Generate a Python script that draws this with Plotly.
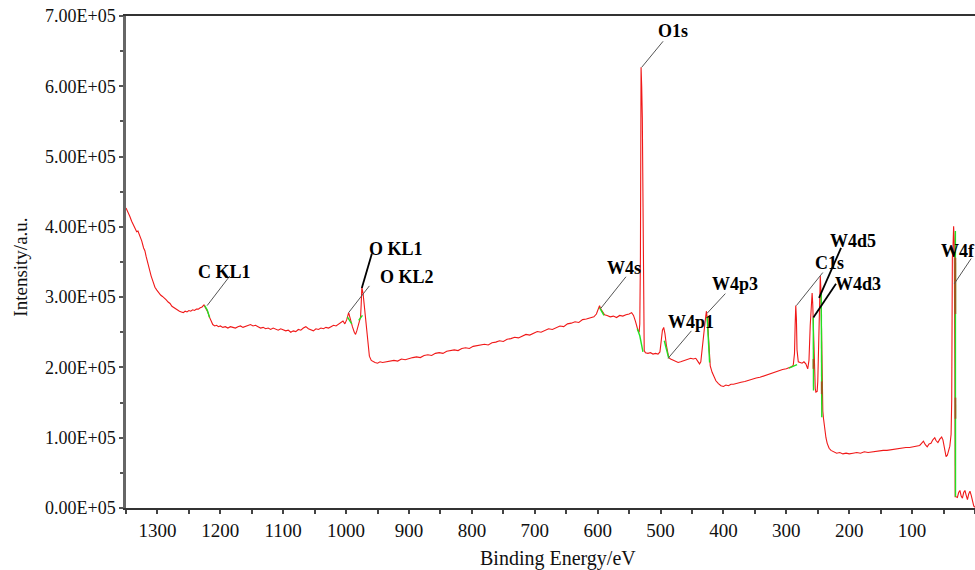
import numpy as np
import plotly.graph_objects as go

# ---------------- data (intensity in units of 1e5 counts) ----------------
be = [1350, 1347, 1344, 1341, 1338, 1335, 1333, 1331, 1329, 1327, 1325, 1322, 1320, 1318, 1316, 1314,
      1312, 1310, 1307, 1304, 1301, 1298, 1295, 1292, 1289, 1286, 1283, 1280, 1277, 1274, 1271, 1268,
      1265, 1262, 1259, 1256, 1253, 1250, 1247, 1244, 1241, 1238, 1235, 1232, 1229, 1226, 1224, 1222,
      1220, 1218, 1216, 1214, 1212, 1209, 1206, 1203, 1200,
      1196, 1192, 1188, 1184, 1180, 1176, 1172, 1168, 1164, 1160, 1156, 1152, 1148, 1144, 1140, 1136,
      1132, 1128, 1124, 1120, 1116, 1112, 1108, 1104, 1100, 1096, 1092, 1088, 1084, 1080, 1076, 1072,
      1068, 1064, 1060, 1056, 1052, 1048, 1044, 1040, 1036, 1032, 1028, 1024, 1020, 1016, 1012, 1008,
      1005, 1002, 999, 996, 993, 990, 987, 985, 983, 981, 979, 977, 976, 975, 973, 971, 969, 967, 965,
      963, 960, 957, 954, 950, 946, 942,
      936, 930, 924, 918, 912, 906, 900, 894, 888, 882, 876, 870, 864, 858, 852, 846, 840, 834, 828,
      822, 816, 810, 804, 798, 792, 786, 780, 774, 768, 762, 756, 750, 744, 738, 732, 726, 720, 714,
      708, 702, 696, 690, 684, 678, 672, 666, 660, 654, 648, 642, 636, 630, 624, 618, 612, 606, 602,
      599, 597, 595, 592, 589, 585, 580, 575, 570, 565, 560, 555, 550, 546, 543, 540, 538, 536, 534,
      533, 532, 531, 530, 529, 528, 527, 526, 524, 520, 516, 512, 508, 504, 501, 499, 497, 495, 493,
      491, 489, 487, 484, 480, 476, 472, 468, 464, 460, 456, 452, 448, 444, 441, 438, 436, 434, 432,
      430, 428, 427, 425, 423, 421, 418, 415, 412, 408, 404, 400, 396, 392, 388, 384, 378, 372, 366,
      360, 354, 348, 342, 336, 330, 324, 318, 312, 306, 300, 296, 292, 289, 287, 286, 285, 284, 283,
      281, 278, 275, 272, 269, 266, 264, 262, 260, 259, 258, 256, 254, 253, 251, 250, 248, 247, 246,
      245, 244, 243, 242, 241, 239, 237, 235, 232, 229, 225, 220, 215, 210, 205, 200, 194, 188, 182,
      176, 170, 164, 158, 152, 146, 140, 134, 128, 122, 116, 110, 104, 98, 92, 88, 85, 82, 79, 76, 73,
      70, 67, 64, 62, 59, 56, 53, 51, 48, 46, 44, 42, 40, 38, 37, 36, 35, 34, 33, 32, 31.5, 30, 28, 26,
      24, 22, 20, 18, 16, 14, 12, 10, 8, 6, 4, 2, 0]
intensity = [4.27, 4.22, 4.15, 4.08, 4.02, 3.96, 3.93, 3.94, 3.90, 3.85, 3.80, 3.70, 3.66, 3.58, 3.50, 3.44,
             3.36, 3.30, 3.22, 3.14, 3.10, 3.06, 3.03, 3.01, 2.99, 2.96, 2.93, 2.91, 2.87, 2.85, 2.84, 2.82,
             2.80, 2.79, 2.78, 2.80, 2.79, 2.81, 2.80, 2.82, 2.81, 2.83, 2.83, 2.85, 2.86, 2.89, 2.86, 2.84,
             2.79, 2.73, 2.68, 2.64, 2.61, 2.59, 2.60, 2.58, 2.59,
             2.57, 2.58, 2.56, 2.58, 2.57, 2.56, 2.58, 2.59, 2.57, 2.58, 2.60, 2.61, 2.59, 2.60, 2.58, 2.56,
             2.57, 2.55, 2.56, 2.54, 2.56, 2.55, 2.53, 2.55, 2.54, 2.52, 2.53, 2.50, 2.52, 2.51, 2.54, 2.53,
             2.56, 2.58, 2.55, 2.54, 2.52, 2.55, 2.54, 2.56, 2.55, 2.57, 2.56, 2.58, 2.60, 2.59, 2.62, 2.64,
             2.66, 2.62, 2.68, 2.78, 2.66, 2.58, 2.50, 2.47, 2.52, 2.60, 2.68, 2.72, 2.90, 3.14, 3.05, 2.85,
             2.72, 2.50, 2.30,
             2.16, 2.10, 2.08, 2.07, 2.06, 2.08, 2.07,
             2.08, 2.09, 2.10, 2.09, 2.12, 2.11, 2.13, 2.14, 2.15, 2.14, 2.17, 2.18, 2.17, 2.20, 2.21, 2.20,
             2.23, 2.24, 2.25, 2.24, 2.27, 2.28, 2.27, 2.30, 2.31, 2.32, 2.33, 2.32, 2.35, 2.36, 2.38, 2.37,
             2.40, 2.41, 2.43, 2.42, 2.45, 2.47, 2.46, 2.49, 2.51, 2.50, 2.53, 2.55, 2.54, 2.57, 2.59, 2.58,
             2.62, 2.63, 2.65, 2.64, 2.68, 2.69, 2.71, 2.72, 2.76,
             2.82, 2.88, 2.83, 2.78, 2.75, 2.74, 2.72, 2.73, 2.71, 2.74, 2.73, 2.75, 2.76, 2.78, 2.74, 2.66,
             2.58, 2.53, 2.50,
             2.62, 3.60, 6.27, 6.00, 5.55, 3.90, 2.60, 2.24, 2.21, 2.20, 2.21, 2.19, 2.20, 2.19, 2.22, 2.35,
             2.53, 2.57, 2.48,
             2.33, 2.20, 2.14, 2.12, 2.10, 2.09, 2.07, 2.08, 2.09, 2.10, 2.11, 2.13, 2.12, 2.13, 2.09, 2.05,
             2.08, 2.22, 2.42,
             2.58, 2.74, 2.80, 2.62, 2.20, 2.02, 1.93, 1.86, 1.81, 1.77, 1.74, 1.73, 1.75, 1.74, 1.76, 1.76,
             1.78, 1.79, 1.80,
             1.82, 1.83, 1.85, 1.86, 1.88, 1.89, 1.91, 1.93, 1.95, 1.97, 1.98, 1.99, 2.01, 2.03, 2.20, 2.60,
             2.88, 2.70, 2.25,
             2.08, 2.07, 2.06, 2.08, 2.05, 1.98, 2.10, 2.60, 3.05, 3.06, 2.90, 2.20, 1.70, 1.65, 1.66, 1.80,
             2.60, 3.28, 3.30,
             3.10, 2.40, 1.60, 1.38, 1.28, 1.12, 1.00, 0.92, 0.85, 0.82, 0.80, 0.78, 0.79, 0.77, 0.78, 0.77,
             0.78, 0.79, 0.78,
             0.80, 0.79, 0.80, 0.81, 0.81, 0.82, 0.82, 0.83, 0.84, 0.84, 0.85, 0.86, 0.86, 0.87, 0.88, 0.89,
             0.92, 0.95, 0.90, 0.87, 0.91,
             0.92, 0.97, 1.00, 0.96, 0.93, 0.98, 1.01, 0.97, 0.84, 0.73, 0.75, 0.84, 0.88, 1.05, 1.55, 3.56,
             3.70, 4.01, 3.80, 2.00, 0.16, 0.16, 0.15, 0.22,
             0.25, 0.17, 0.14, 0.22, 0.25, 0.18, 0.12, 0.20, 0.24, 0.18, 0.10, 0.03, 0.01]

# background-fit segments (green), None separates segments
green_be = [1225, 1221, 1217, None, 998, 991, None, 980, 974, None, 597, 590, None,
            537, 535, 533, 528, None, 494, 487, None, 426, 424, 422, None, 296, 283, None,
            257.2, 256.8, None, 244.5, 243.6, None, 31.2, 31.0]
green_int = [2.88, 2.82, 2.71, None, 2.72, 2.62, None, 2.67, 2.74, None, 2.85, 2.74, None,
             2.55, 2.50, 2.45, 2.22, None, 2.38, 2.13, None, 2.72, 2.45, 2.07, None, 1.99, 2.04, None,
             2.71, 1.67, None, 3.05, 1.29, None, 3.94, 0.16]
brown_be = [31.1, 31.1, None, 31.05, 31.05, None, 256.9, 256.9, None, 243.8, 243.8]
brown_int = [3.56, 2.76, None, 1.57, 1.27, None, 2.12, 1.98, None, 1.80, 1.62]

# peak labels: text, text position, leader line (start -> peak), line colour
label_text = ["C KL1", "O KL1", "O KL2", "W4s", "O1s", "W4p3", "W4p1", "C1s", "W4d5", "W4d3", "W4f"]
label_be = [1193, 921, 903, 558, 480, 381, 451, 232, 194, 186, 57]
label_int = [3.36, 3.69, 3.29, 3.42, 6.78, 3.19, 2.64, 3.48, 3.80, 3.18, 3.66]
label_anchor = ["center"] * 10 + ["left"]
line_be0 = [1185, 959, 963, 555, 496, 397, 451, 242, 213, 221, 6]
line_int0 = [3.30, 3.62, 3.16, 3.29, 6.64, 3.05, 2.52, 3.35, 3.70, 3.19, 3.55]
line_be1 = [1221, 975, 996, 595, 530, 426, 488, 284, 248, 257, 33]
line_int1 = [2.88, 3.13, 2.78, 2.84, 6.27, 2.77, 2.13, 2.88, 2.99, 2.71, 3.19]
line_dark = [False, True, False, False, False, False, False, False, True, True, False]

y_tickvals = [0, 1, 2, 3, 4, 5, 6, 7]
y_ticktext = ["0.00E+05", "1.00E+05", "2.00E+05", "3.00E+05", "4.00E+05", "5.00E+05", "6.00E+05", "7.00E+05"]
x_tickvals = [1300, 1200, 1100, 1000, 900, 800, 700, 600, 500, 400, 300, 200, 100]

SCALE = 1e5


def scaled(vals):
    return [None if v is None else v * SCALE for v in vals]


SERIF = "Liberation Serif, Times New Roman, serif"

fig = go.Figure()
fig.add_trace(go.Scatter(x=be, y=scaled(intensity), mode="lines",
                         line=dict(color="#f01818", width=1.1), showlegend=False))
fig.add_trace(go.Scatter(x=green_be, y=scaled(green_int), mode="lines",
                         line=dict(color="#22e022", width=1.4), showlegend=False, connectgaps=False))
fig.add_trace(go.Scatter(x=brown_be, y=scaled(brown_int), mode="lines",
                         line=dict(color="#9a5a20", width=1.6), showlegend=False, connectgaps=False))

shapes = []
annotations = []
for i, t in enumerate(label_text):
    shapes.append(dict(type="line", xref="x", yref="y",
                       x0=line_be0[i], y0=line_int0[i] * SCALE,
                       x1=line_be1[i], y1=line_int1[i] * SCALE,
                       line=dict(color="#000000" if line_dark[i] else "#555555",
                                 width=1.8 if line_dark[i] else 1)))
    annotations.append(dict(x=label_be[i], y=label_int[i] * SCALE, xref="x", yref="y",
                            text="<b>%s</b>" % t, showarrow=False, xanchor=label_anchor[i],
                            yanchor="middle",
                            font=dict(family=SERIF, size=18, color="#000000")))

annotations.append(dict(text="Binding Energy/eV", xref="paper", yref="paper",
                        x=0.509, y=-0.102, xanchor="center", yanchor="middle", showarrow=False,
                        font=dict(family=SERIF, size=20, color="#111111")))
annotations.append(dict(text="Intensity/a.u.", xref="paper", yref="paper",
                        x=-0.124, y=0.49, xanchor="center", yanchor="middle", showarrow=False,
                        textangle=-90,
                        font=dict(family=SERIF, size=19, color="#111111")))

fig.update_layout(
    width=975, height=570,
    margin=dict(l=126, r=0, t=16, b=62),
    plot_bgcolor="white", paper_bgcolor="white",
    shapes=shapes, annotations=annotations,
    showlegend=False,
    xaxis=dict(range=[1350, 0], autorange=False, tickvals=x_tickvals,
               ticks="outside", ticklen=4, tickwidth=1.5, tickcolor="#444444",
               minor=dict(dtick=50, tick0=0, ticks="outside", ticklen=4, tickcolor="#444444", tickwidth=1.5),
               showline=True, linecolor="#333333", linewidth=2, mirror=True,
               showgrid=False, zeroline=False,
               tickfont=dict(family=SERIF, size=19, color="#111111")),
    yaxis=dict(range=[0, 7 * SCALE], autorange=False,
               tickvals=[v * SCALE for v in y_tickvals], ticktext=y_ticktext,
               ticks="outside", ticklen=4, tickwidth=1.5, tickcolor="#555555",
               minor=dict(dtick=0.5 * SCALE, tick0=0, ticks="outside", ticklen=3, tickcolor="#555555", tickwidth=1.5),
               showline=True, linecolor="#666666", linewidth=2.5,
               showgrid=False, zeroline=False,
               tickfont=dict(family=SERIF, size=18, color="#111111")),
)

fig.write_html("out.html")
